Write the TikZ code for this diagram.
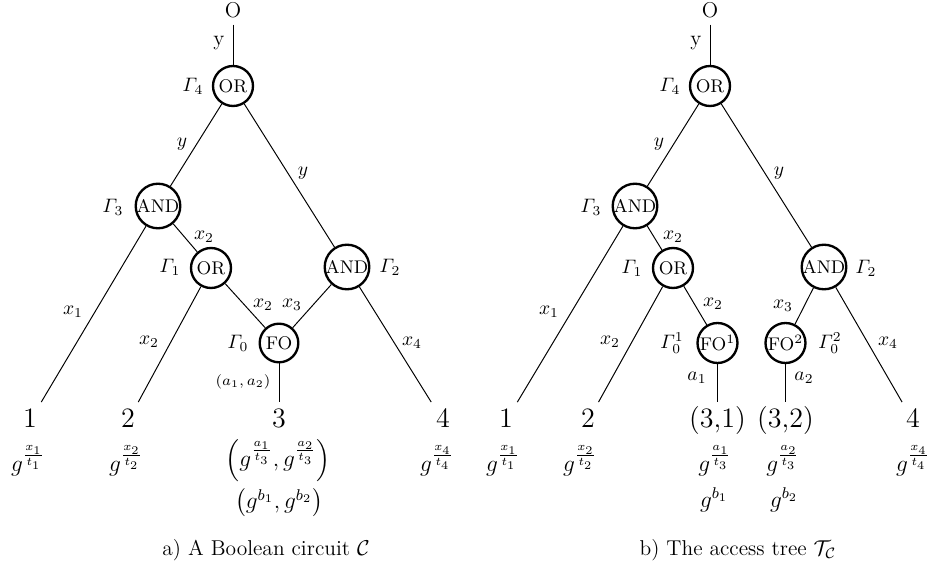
\documentclass[tikz,border=0pt]{standalone}
\usepackage{fix-cm}
\usepackage{amsmath}
\usepackage{fontspec}
\tikzset{
  gate/.style={circle, draw, line width=1.2pt, inner sep=0pt, font=\fontsize{9.4}{10}\selectfont},
  orgate/.style={gate, minimum size=20.5pt},
  andgate/.style={gate, minimum size=22.8pt},
  fogate/.style={gate, minimum size=19.8pt},
  edge/.style={line width=0.5pt},
  lbl/.style={font=\fontsize{10}{11}\selectfont, inner sep=0pt},
  tinylbl/.style={font=\fontsize{7.5}{8}\selectfont, inner sep=0pt},
  leaf/.style={font=\fontsize{14.4}{17}\selectfont, text height=10pt, text depth=3pt, inner sep=3pt},
  topnode/.style={font=\fontsize{11}{13}\selectfont},
  gl/.style={font=\fontsize{12}{14}\selectfont, inner sep=0pt},
  captext/.style={font=\fontsize{11}{13}\selectfont, inner sep=0pt}
}
\begin{document}
\begin{tikzpicture}[x=0.5128pt, y=-0.5128pt]
\useasboundingbox (0,0) rectangle (932,576);
% ---------------- left tree ----------------
\node[topnode] (O) at (233,10) {O};
\node[orgate] (G4) at (233,86) {OR};
\node[andgate] (G3) at (158,206) {AND};
\node[andgate] (G2) at (347,267) {AND};
\node[orgate] (G1) at (211,268) {OR};
\node[fogate] (G0) at (279,343) {FO};
\node[leaf] (L1) at (30,421) {1};
\node[leaf] (L2) at (128,421) {2};
\node[leaf] (L3) at (279,421) {3};
\node[leaf] (L4) at (443,421) {4};
\draw[edge] (O) -- (G4);
\draw[edge] (G4) -- (G3);
\draw[edge] (G4) -- (G2);
\draw[edge] (G3) -- (L1);
\draw[edge] (G3) -- (G1);
\draw[edge] (G1) -- (L2);
\draw[edge] (G1) -- (G0);
\draw[edge] (G2) -- (G0);
\draw[edge] (G2) -- (L4);
\draw[edge] (G0) -- (L3);
\node[lbl, font=\fontsize{11}{13}\selectfont] (ly) at (219,43) {y};
\node[lbl] (lG4) at (193,86) {$\varGamma_4$};
\node[lbl] (ly1) at (182,144) {$y$};
\node[lbl] (ly2) at (303,173) {$y$};
\node[lbl] (lG3) at (113,207) {$\varGamma_3$};
\node[lbl] (lx2a) at (204,237) {$x_2$};
\node[lbl] (lG1) at (170,267) {$\varGamma_1$};
\node[lbl] (lG2) at (390,267) {$\varGamma_2$};
\node[lbl] (lx1) at (73,312) {$x_1$};
\node[lbl] (lx2b) at (149,342) {$x_2$};
\node[lbl] (lx2c) at (263,305) {$x_2$};
\node[lbl] (lx3) at (292,305) {$x_3$};
\node[lbl] (lG0) at (238,343) {$\varGamma_0$};
\node[lbl] (lx4) at (412,343) {$x_4$};
\node[tinylbl] (la) at (243,382) {$(a_1,a_2)$};
\node[gl] (g1) at (28,461) {$g^{\frac{x_1}{t_1}}$};
\node[gl] (g2) at (126,461) {$g^{\frac{x_2}{t_2}}$};
\node[gl] (g3) at (278,461) {$\left(g^{\frac{a_1}{t_3}},g^{\frac{a_2}{t_3}}\right)$};
\node[gl] (g4) at (437,461) {$g^{\frac{x_4}{t_4}}$};
\node[gl] (gb) at (279,503) {$\left(g^{b_1},g^{b_2}\right)$};
\node[captext] (capa) at (266,550) {a) A Boolean circuit $\mathcal{C}$};
% ---------------- right tree ----------------
\node[topnode] (Ob) at (710,10) {O};
\node[orgate] (H4) at (710,86) {OR};
\node[andgate] (H3) at (635,206) {AND};
\node[andgate] (H2) at (824,267) {AND};
\node[orgate] (H1) at (673,268) {OR};
\node[fogate, minimum size=20.5pt] (F1) at (717.5,343) {FO$^1$};
\node[fogate, minimum size=20.5pt] (F2) at (785.5,343) {FO$^2$};
\node[leaf] (M1) at (506,421) {1};
\node[leaf] (M2) at (588,421) {2};
\node[leaf] (M31) at (717.5,421) {(3,1)};
\node[leaf] (M32) at (785.5,421) {(3,2)};
\node[leaf] (M4) at (913,421) {4};
\draw[edge] (Ob) -- (H4);
\draw[edge] (H4) -- (H3);
\draw[edge] (H4) -- (H2);
\draw[edge] (H3) -- (M1);
\draw[edge] (H3) -- (H1);
\draw[edge] (H1) -- (M2);
\draw[edge] (H1) -- (F1);
\draw[edge] (H2) -- (F2);
\draw[edge] (H2) -- (M4);
\draw[edge] (F1) -- (M31);
\draw[edge] (F2) -- (M32);
\node[lbl, font=\fontsize{11}{13}\selectfont] (ry) at (696,43) {y};
\node[lbl] (rG4) at (670,86) {$\varGamma_4$};
\node[lbl] (ry1) at (659,144) {$y$};
\node[lbl] (ry2) at (779,173) {$y$};
\node[lbl] (rG3) at (591,207) {$\varGamma_3$};
\node[lbl] (rx2a) at (673,237) {$x_2$};
\node[lbl] (rG1) at (632,268) {$\varGamma_1$};
\node[lbl] (rG2) at (866,268) {$\varGamma_2$};
\node[lbl] (rx1) at (549,312) {$x_1$};
\node[lbl] (rx2b) at (610,342) {$x_2$};
\node[lbl] (rx2c) at (713,304) {$x_2$};
\node[lbl] (rx3) at (783,306) {$x_3$};
\node[lbl] (rG01) at (672,343) {$\varGamma_0^1$};
\node[lbl] (rG02) at (830,343) {$\varGamma_0^2$};
\node[lbl] (rx4) at (888,343) {$x_4$};
\node[lbl] (ra1) at (697,378) {$a_1$};
\node[lbl] (ra2) at (804,378) {$a_2$};
\node[gl] (h1) at (503,461) {$g^{\frac{x_1}{t_1}}$};
\node[gl] (h2) at (580,461) {$g^{\frac{x_2}{t_2}}$};
\node[gl] (h31) at (715,461) {$g^{\frac{a_1}{t_3}}$};
\node[gl] (h32) at (783,461) {$g^{\frac{a_2}{t_3}}$};
\node[gl] (h4) at (913,461) {$g^{\frac{x_4}{t_4}}$};
\node[gl] (hb1) at (714,500) {$g^{b_1}$};
\node[gl] (hb2) at (784,500) {$g^{b_2}$};
\node[captext] (capb) at (738,550) {b) The access tree $\mathcal{T}_{\mathcal{C}}$};
\end{tikzpicture}
\end{document}
